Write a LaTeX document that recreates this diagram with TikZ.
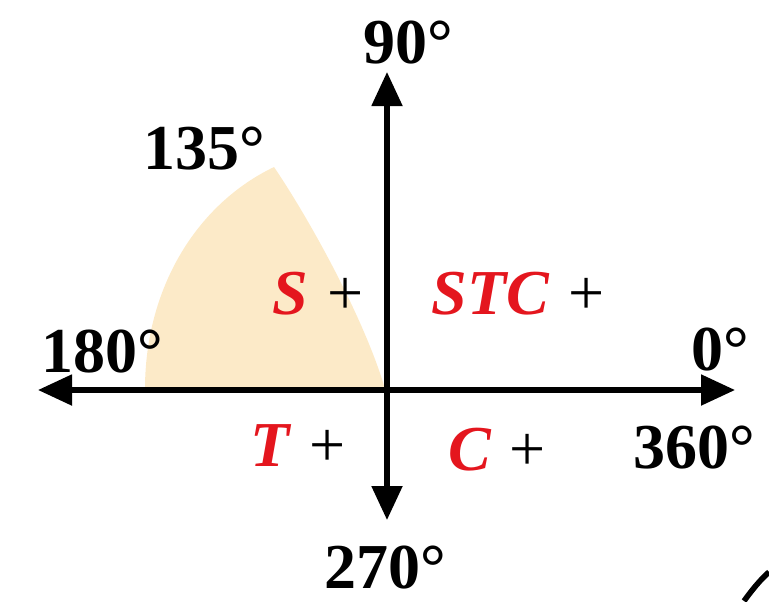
\documentclass[tikz,border=0pt]{standalone}
\usepackage{fontspec}
\setmainfont{Liberation Serif}
\usetikzlibrary{arrows.meta}

\definecolor{sectorfill}{RGB}{252,234,200}
\definecolor{signred}{RGB}{228,22,30}

\newcommand{\signletter}[1]{{\color{signred}\itshape #1}}

\begin{document}
\begin{tikzpicture}[
    x=0.5pt, y=-0.5pt,
    font=\fontsize{32}{36}\selectfont\bfseries,
    axis/.style={line width=2.6pt,
        {Triangle[length=17pt,width=15pt]}-{Triangle[length=17pt,width=15pt]}},
    angle/.style={inner sep=0pt},
    sign/.style={inner sep=0pt}
]

\useasboundingbox (0,0) rectangle (769,601);

% Shaded sector
\fill[sectorfill]
    (385,389)
    .. controls (365,320) and (310,220) ..
    (274,167)
    .. controls (195,205) and (145,290) ..
    (145,389)
    -- cycle;

% Axes
\coordinate (west) at (38,390);
\coordinate (east) at (735,390);
\coordinate (north) at (387,72);
\coordinate (south) at (387,520);

\draw[axis] (west) -- (east);
\draw[axis] (north) -- (south);

% Angles
\node[angle] (a90) at (408,43) {90°};
\node[angle] (a135) at (204,149) {135°};
\node[angle] (a180) at (102,352) {180°};
\node[angle] (a0) at (720,350) {0°};
\node[angle] (a360) at (694,448) {360°};
\node[angle] (a270) at (385,568) {270°};

% Signs
\node[sign] (quadII) at (318,294)
    {\signletter{S}\hspace{0.3em}{\mdseries +}};
\node[sign] (quadI) at (518,294)
    {\signletter{STC}\hspace{0.3em}{\mdseries +}};
\node[sign] (quadIII) at (298,446)
    {\signletter{T}\hspace{0.3em}{\mdseries +}};
\node[sign] (quadIV) at (497,450)
    {\signletter{C}\hspace{0.3em}{\mdseries +}};

% Corner stroke
\draw[line width=2.8pt] (744,601) .. controls (752,590) and (760,580) .. (769,572);

\end{tikzpicture}
\end{document}
